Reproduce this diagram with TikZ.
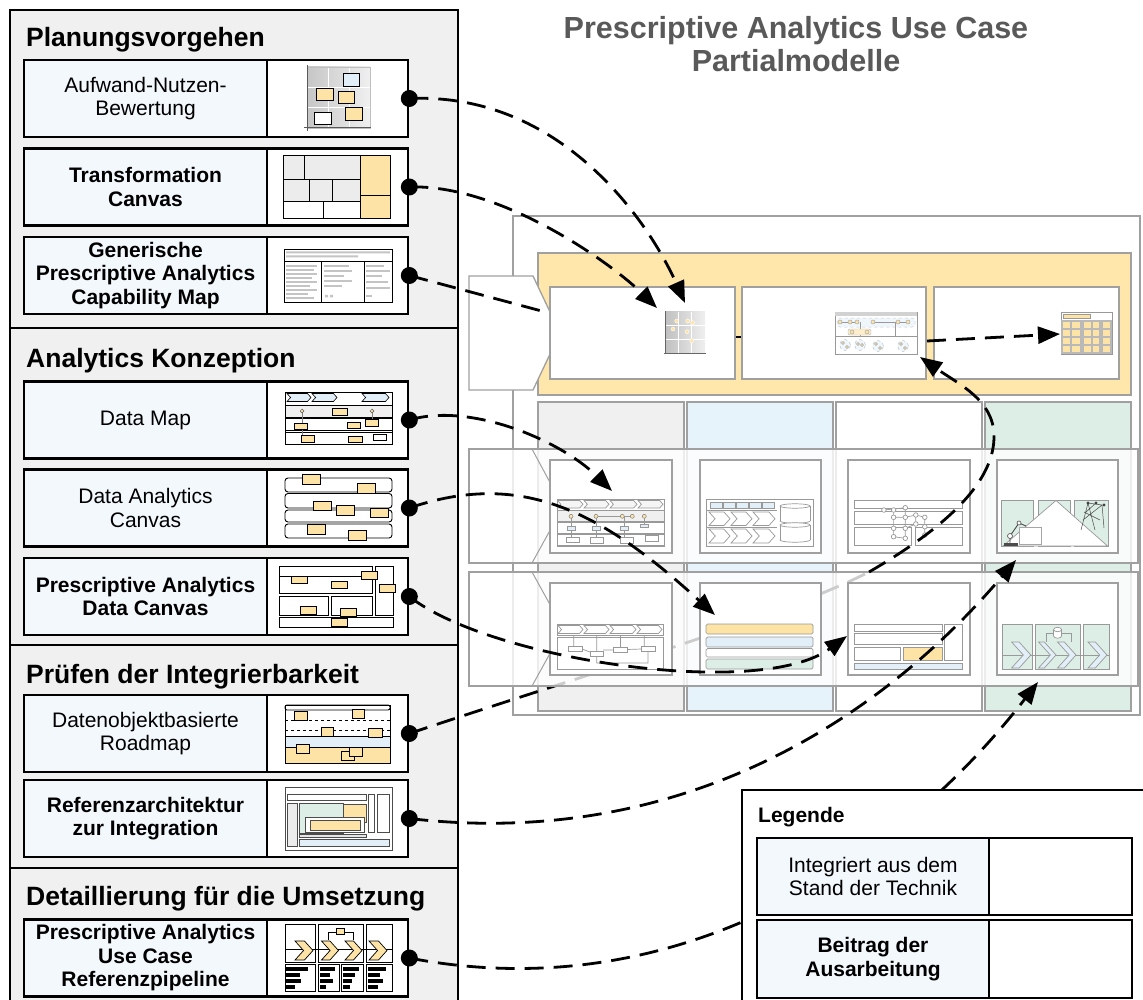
\documentclass[tikz,border=0pt]{standalone}
\usepackage{fontspec}
\setmainfont{Liberation Sans}
\usetikzlibrary{arrows.meta,calc}

\definecolor{panelgray}{HTML}{F0F0F0}
\definecolor{celltint}{HTML}{F3F8FC}
\definecolor{sand}{HTML}{FFE6AB}
\definecolor{notefill}{HTML}{FDE3A6}
\definecolor{framegray}{HTML}{A0A0A0}
\definecolor{colgray}{HTML}{F0F0F0}
\definecolor{colblue}{HTML}{E7F3FA}
\definecolor{colgreen}{HTML}{DDEEE6}
\definecolor{titlegray}{HTML}{595959}
\definecolor{paleblue}{HTML}{E2EFF9}
\definecolor{palegreen}{HTML}{DCEEE5}
\definecolor{bargray}{HTML}{C4C4C4}

% right-pointing chevron: [style]{x1}{x2}{y1}{y2}
\newcommand{\chevpath}[5][]{%
  \draw[#1] (#2,#4) -- ({#3-0.45*(#5-#4)},#4) -- (#3,{0.5*(#4+#5)})
    -- ({#3-0.45*(#5-#4)},#5) -- (#2,#5) -- ({#2+0.45*(#5-#4)},{0.5*(#4+#5)}) -- cycle;}
% small database drum: {cx}{ytop}{ybottom}{rx}
\newcommand{\drumshape}[4]{%
  \draw[icline, fill=white] (#1,#3) ellipse[x radius=#4pt, y radius=2.2pt];
  \fill[white] ({#1-#4},#2) rectangle ({#1+#4},#3);
  \draw[icline] ({#1-#4},#2) -- ({#1-#4},#3) ({#1+#4},#2) -- ({#1+#4},#3);
  \draw[icline, fill=white] (#1,#2) ellipse[x radius=#4pt, y radius=2.2pt];}

\begin{document}
\begin{tikzpicture}[x=1pt,y=-1pt,
  itemtext/.style={font=\fontsize{21}{23.5}\selectfont, align=center},
  itemL/.style={draw, line width=2.6pt, fill=celltint, minimum width=243pt, minimum height=77pt, inner sep=0pt, itemtext},
  itemLb/.style={itemL, font=\fontsize{21}{23.5}\selectfont\bfseries},
  itemR/.style={draw, line width=2.6pt, fill=white, minimum width=141pt, minimum height=77pt, inner sep=0pt},
  sectitle/.style={anchor=base west, font=\fontsize{26.5}{29}\selectfont\bfseries, inner sep=0pt},
  conn/.style={line width=2.8pt, dash pattern=on 19pt off 10pt},
  arrowend/.style={-{Triangle[length=22pt,width=17pt]}},
  gframe/.style={draw=framegray, line width=1.3pt},
  pbox/.style={gframe, fill=white, inner sep=0pt},
  icline/.style={draw=gray!80, line width=0.7pt},
  postit/.style={draw=black, line width=0.7pt, fill=notefill},
  icblack/.style={draw=black, line width=0.9pt},
]
\fill[white] (0,0) rectangle (1143,1000);
\useasboundingbox (0,0) rectangle (1143,1000);

% ---------------- left panel ----------------
\draw[line width=2.4pt, fill=panelgray] (10,10) rectangle (458,1012);
\draw[line width=2.8pt] (10,328) -- (458,328) (10,645) -- (458,645) (10,868) -- (458,868);

\node[sectitle] (sec1) at (26,47) {Planungsvorgehen};
\node[sectitle] (sec2) at (26,367) {Analytics Konzeption};
\node[sectitle] (sec3) at (26,683) {Prüfen der Integrierbarkeit};
\node[sectitle] (sec4) at (26,905) {Detaillierung für die Umsetzung};

\node[itemL]  (aufL)  at (145.5,98.5) {Aufwand-Nutzen-\\Bewertung};
\node[itemR]  (aufR)  at (337.5,98.5) {};
\node[itemLb] (traL)  at (145.5,187) {Transformation\\Canvas};
\node[itemR]  (traR)  at (337.5,187) {};
\node[itemLb] (genL)  at (145.5,275.5) {Generische\\Prescriptive Analytics\\Capability Map};
\node[itemR]  (genR)  at (337.5,275.5) {};
\node[itemL]  (dmapL) at (145.5,420) {Data Map};
\node[itemR]  (dmapR) at (337.5,420) {};
\node[itemL]  (dacL)  at (145.5,508) {Data Analytics\\Canvas};
\node[itemR]  (dacR)  at (337.5,508) {};
\node[itemLb] (pdcL)  at (145.5,596.5) {Prescriptive Analytics\\Data Canvas};
\node[itemR]  (pdcR)  at (337.5,596.5) {};
\node[itemL]  (roadL) at (145.5,733.5) {Datenobjektbasierte\\Roadmap};
\node[itemR]  (roadR) at (337.5,733.5) {};
\node[itemLb] (refL)  at (145.5,818.5) {Referenzarchitektur\\zur Integration};
\node[itemR]  (refR)  at (337.5,818.5) {};
\node[itemLb] (pipeL) at (145.5,958) {Prescriptive Analytics\\Use Case\\Referenzpipeline};
\node[itemR]  (pipeR) at (337.5,958) {};

% effort/benefit matrix thumbnail
\shade[left color=gray!45, right color=gray!12] (307,67) rectangle (370,128);
\draw[white, line width=0.9pt] (328,67) -- (328,128) (349,67) -- (349,128) (307,87) -- (370,87) (307,107) -- (370,107);
\draw[gray!50, line width=0.8pt] (307,67) rectangle (370,128);
\draw[gray!70!black, line width=1pt] (307,65) -- (307,131) (304,128) -- (371,128);
\draw[postit, fill=paleblue] (343,73) rectangle (359,86);
\draw[postit] (316,88) rectangle (333,100);
\draw[postit] (338,91) rectangle (354,103);
\draw[postit] (345,107) rectangle (362,120);
\draw[postit, fill=white] (314,112) rectangle (331,124);

% transformation canvas thumbnail
\begin{scope}[line width=1pt]
\draw[fill=gray!15] (283,156) rectangle (304,180);
\draw[fill=gray!15] (304,156) rectangle (360,180);
\draw[fill=notefill] (360,156) rectangle (390,196);
\draw[fill=notefill] (360,196) rectangle (390,219);
\draw[fill=gray!15] (283,180) rectangle (309,202);
\draw[fill=gray!15] (309,180) rectangle (332,202);
\draw[fill=gray!15] (332,180) rectangle (360,202);
\draw[fill=white] (283,202) rectangle (323,219);
\draw[fill=white] (323,202) rectangle (360,219);
\end{scope}

% capability map thumbnail
\draw[icblack, fill=white] (284,249) rectangle (392,302);
\draw[icblack] (284,261) -- (392,261) (321,261) -- (321,302) (364,261) -- (364,302);
\fill[bargray] (286,251.5) rectangle (390,253.5) (286,255.5) rectangle (358,257.5);
\foreach \yy/\len in {265/31,269/28,273/31,277/26,281/31,285/24,289/31,293/22,297/28}
  {\fill[bargray] (286,\yy) rectangle (286+\len,\yy+2.2);}
\foreach \yy/\len in {265/25,270/28,275/20,280/28,285/18}
  {\fill[bargray] (324,\yy) rectangle (324+\len,\yy+2.2);}
\fill[bargray] (325,295) rectangle (328,297.5) (330,295) rectangle (333,297.5);
\foreach \yy/\len in {265/18,270/24,275/16,281/22,287/24}
  {\fill[bargray] (366,\yy) rectangle (366+\len,\yy+2.2);}
\fill[bargray] (366,295) rectangle (372,297.5);

% data map thumbnail
\draw[icblack, line width=0.8pt, fill=white] (285,392) rectangle (392,444);
\chevpath[draw=black, line width=0.6pt, fill=paleblue]{287}{311}{393.5}{401.5}
\chevpath[draw=black, line width=0.6pt, fill=paleblue]{312}{337}{393.5}{401.5}
\chevpath[draw=black, line width=0.6pt, fill=paleblue]{362}{389}{393.5}{401.5}
\draw[line width=0.6pt, fill=gray!12] (285,405) rectangle (392,417);
\draw[line width=0.6pt] (285,418.5) rectangle (392,430.5) (285,432) rectangle (392,444);
\draw[gray, line width=0.5pt] (302,411) -- (302,437) (372,411) -- (372,421);
\draw[gray!70!black, line width=0.5pt, fill=notefill] (302,411) circle[radius=1.9pt] (372,411) circle[radius=1.9pt];
\draw[postit] (332,408) rectangle (347,415);
\draw[postit] (294,423) rectangle (307,429);
\draw[postit] (347,422) rectangle (360,428);
\draw[postit] (365,419) rectangle (378,426);
\draw[postit] (301,435) rectangle (314,442);
\draw[postit] (348,436) rectangle (362,442);
\draw[postit, fill=white] (373,434) rectangle (386,440);

% data analytics canvas thumbnail
\begin{scope}[line width=0.9pt]
\draw[rounded corners=3pt, fill=white] (285,478) rectangle (392,492);
\draw[rounded corners=3pt, fill=white] (285,493.5) rectangle (392,508);
\draw[rounded corners=3pt, fill=white] (285,510) rectangle (392,522);
\draw[rounded corners=3pt, fill=white] (285,524) rectangle (392,538);
\end{scope}
\draw[postit] (302,474) rectangle (320,484);
\draw[postit] (357,483) rectangle (375,493);
\draw[postit] (313,501) rectangle (331,510);
\draw[postit] (336,505) rectangle (354,515);
\draw[postit] (370,508) rectangle (388,517);
\draw[postit] (307,524) rectangle (325,534);
\draw[postit] (348,530) rectangle (366,540);

% prescriptive analytics data canvas thumbnail
\begin{scope}[line width=0.9pt]
\draw[fill=white] (279,566) rectangle (372,593);
\draw (279,576) -- (372,576);
\draw[fill=white] (375,566) rectangle (393,615);
\draw[fill=white] (279,596) rectangle (328,615);
\draw[fill=white] (331,596) rectangle (372,615);
\draw[fill=white] (279,617) rectangle (393,627);
\end{scope}
\draw[postit] (291,576) rectangle (307,583);
\draw[postit] (331,581) rectangle (347,588);
\draw[postit] (361,571) rectangle (377,579);
\draw[postit] (379,584) rectangle (395,592);
\draw[postit] (300,606) rectangle (316,614);
\draw[postit] (340,608) rectangle (356,616);
\draw[postit] (331,618) rectangle (347,626);

% roadmap thumbnail
\draw[icblack, fill=white] (285,705) rectangle (390,763);
\draw[icblack, rounded corners=2pt] (285,705) rectangle (390,710);
\draw[dashed, line width=0.8pt] (285,720) -- (390,720) (285,730) -- (390,730);
\draw[icblack, fill=paleblue] (285,736) rectangle (390,747);
\draw[icblack, fill=notefill] (285,747) rectangle (390,763);
\draw[postit] (294,711) rectangle (307,720);
\draw[postit] (352,709) rectangle (364,718);
\draw[postit] (321,727) rectangle (333,736);
\draw[postit] (368,728) rectangle (382,737);
\draw[postit] (296,744) rectangle (309,753);
\draw[postit] (341,751) rectangle (354,760);
\draw[postit] (349,747) rectangle (362,756);

% reference architecture thumbnail
\begin{scope}[draw=gray!60!black, line width=0.8pt]
\draw[fill=white] (285,787) rectangle (392,850);
\draw[fill=white] (287,794) rectangle (366,800);
\draw[fill=gray!15] (287,803) rectangle (297,846);
\draw[fill=palegreen] (299,803) rectangle (343,833);
\draw[fill=notefill] (343,804) rectangle (366,822);
\draw[fill=white] (305,817) rectangle (364,832);
\draw[fill=notefill] (310,820) rectangle (360,830);
\draw[fill=gray!20] (299,834) rectangle (366,837);
\draw[fill=white] (368,794) rectangle (374,832);
\draw[fill=white] (377,794) rectangle (389,832);
\draw[fill=paleblue] (299,839) rectangle (389,846);
\end{scope}

% reference pipeline thumbnail
\begin{scope}[draw=black, line width=0.8pt]
\draw[fill=white] (285,924) rectangle (315,962);
\draw[fill=white] (318,924) rectangle (363,962);
\draw[fill=white] (366,924) rectangle (392,962);
\draw (285,949) -- (392,949);
\chevpath[draw=black, line width=0.7pt, fill=notefill]{295}{313}{941}{960}
\chevpath[draw=black, line width=0.7pt, fill=notefill]{321.5}{338.5}{941}{960}
\chevpath[draw=black, line width=0.7pt, fill=notefill]{345}{362}{941}{960}
\chevpath[draw=black, line width=0.7pt, fill=notefill]{369}{387}{941}{960}
\draw (328.3,940) -- (328.3,932.7) -- (353.3,932.7) -- (353.3,940);
\draw[fill=notefill] (336.7,928) rectangle (344,934);
\draw[fill=white] (285,964) rectangle (315,991);
\draw[fill=white] (318,964) rectangle (339,991);
\draw[fill=white] (341.5,964) rectangle (363,991);
\draw[fill=white] (366,964) rectangle (392,991);
\end{scope}
\foreach \xx/\wa/\wb/\wc/\wd in {286/22/14/15/9, 319.5/15/10/13/6, 343/16/12/9/7, 367.5/18/12/15/10} {
  \fill[black] (\xx,966.5) rectangle (\xx+\wa,970.5);
  \fill[black] (\xx,972.5) rectangle (\xx+\wb,976.5);
  \fill[black] (\xx,978.5) rectangle (\xx+\wc,982.5);
  \fill[black] (\xx,984.5) rectangle (\xx+\wd,988.5);
}

% ---------------- title ----------------
\node[font=\fontsize{30.5}{32.5}\selectfont\bfseries, text=titlegray, align=center, inner sep=0pt] (title) at (796,44) {Prescriptive Analytics Use Case\\Partialmodelle};

% ---------------- use case framework ----------------
\draw[gframe, fill=white] (513,216) rectangle (1140,715);
\draw[gframe, fill=sand] (538,253) rectangle (1131,395);
\draw[gframe, fill=white] (469,276) -- (533,276) -- (560,333) -- (533,390) -- (469,390) -- cycle;
\node[pbox, minimum width=185pt, minimum height=92pt] (tb1) at (642.5,333) {};
\node[pbox, minimum width=184pt, minimum height=92pt] (tb2) at (834,333) {};
\node[pbox, minimum width=185pt, minimum height=92pt] (tb3) at (1026.5,333) {};
\draw[line width=2.8pt] ($(tb1.east)+(0,4)$) -- ($(tb2.west)+(0,4)$);

% matrix icon
\shade[left color=gray!50, right color=gray!12] (665,312) rectangle (705,353);
\draw[white, line width=0.6pt] (678,312) -- (678,353) (691,312) -- (691,353) (665,325.5) -- (705,325.5) (665,339) -- (705,339);
\draw[gray!80!black, line width=0.8pt] (665,311) -- (665,354) (664,353) -- (706,353);
\foreach \p in {(676.7,321),(687.7,321),(692.7,322.7),(673,329),(687,331.7),(691.7,340.7)}
  {\fill[notefill, draw=white, line width=0.4pt] \p circle[radius=2pt];}

% model icon
\draw[icline, fill=white] (835,312) rectangle (917,354);
\fill[gray!35] (835,312) rectangle (917,316);
\draw[icline] (835,336) -- (917,336);
\draw[paleblue!70!gray, dashed, line width=0.5pt, fill=paleblue!50, rounded corners=3pt] (837,318) rectangle (915,327);
\draw[icline] (840,322) -- (857,322) (873,322) -- (908,322) (860,322) -- (860,336) (895,322) -- (895,336);
\draw[gray!60, fill=notefill!60, rounded corners=2pt] (848,329) rectangle (871,335);
\foreach \p in {(840,322),(850,322),(857,322),(873,322),(898,322),(908,322),(852,332),(867,332)}
  {\draw[gray!70, line width=0.5pt, fill=notefill] \p circle[radius=2pt];}
\foreach \p in {(845,345),(860,345),(878,346),(903,346)}
  {\draw[paleblue!60!gray, dashed, line width=0.5pt, fill=paleblue!50] \p circle[radius=5.5pt];}
\foreach \p in {(843,343),(847,347),(858,344),(862,345),(876,344),(880,348),(901,344),(905,348)}
  {\draw[gray!70, line width=0.4pt, fill=notefill] \p circle[radius=1.5pt];}

% table icon
\draw[icline, fill=white] (1061,312) rectangle (1112,354);
\draw[icline, fill=notefill] (1063,314.5) rectangle (1090,318);
\fill[gray!55] (1061,320) rectangle (1112,354);
\foreach \cx/\cw in {1063/7,1072/8,1084/7,1093/6,1103/7}
  {\foreach \ry in {322,330,338,346}
    {\fill[notefill] (\cx,\ry) rectangle (\cx+\cw,\ry+6);}}

% columns
\draw[gframe, fill=colgray] (538,402) rectangle (684,711);
\draw[gframe, fill=colblue] (687,402) rectangle (833,711);
\draw[gframe, fill=white] (836,402) rectangle (982,711);
\draw[gframe, fill=colgreen] (985,402) rectangle (1131,711);

% roadmap connector, first leg runs beneath the lower band
\coordinate (viaG) at (869,572);
\draw[conn] (roadR.east) .. controls (600,670) and (780,617) .. (viaG);

% translucent bands
\draw[gframe, fill=white, fill opacity=0.8] (469,449) rectangle (1138,563);
\draw[framegray, line width=1pt] (532,449) -- (553,488) (553,525) -- (532,563);
\draw[gframe, fill=white, fill opacity=0.8] (469,572) rectangle (1138,686);
\draw[framegray, line width=1pt] (532,572) -- (553,610) (553,648) -- (532,686);

\node[pbox, minimum width=122pt, minimum height=93pt] (r2a) at (611,506.5) {};
\node[pbox, minimum width=121pt, minimum height=93pt] (r2b) at (760.5,506.5) {};
\node[pbox, minimum width=122pt, minimum height=93pt] (r2c) at (909,506.5) {};
\node[pbox, minimum width=121pt, minimum height=93pt] (r2d) at (1057.5,506.5) {};
\node[pbox, minimum width=122pt, minimum height=92pt] (r3a) at (611,629) {};
\node[pbox, minimum width=121pt, minimum height=92pt] (r3b) at (760.5,629) {};
\node[pbox, minimum width=122pt, minimum height=92pt] (r3c) at (909,629) {};
\node[pbox, minimum width=121pt, minimum height=92pt] (r3d) at (1057.5,629) {};

% data map icon
\draw[icline, fill=white] (557,499) rectangle (664,546);
\foreach \a/\b in {557.5/583,584/609,610/637,638/663}
  {\chevpath[icline, fill=gray!8]{\a}{\b}{500.5}{508}}
\draw[icline, fill=gray!12] (557,510.5) rectangle (664,521.5);
\draw[icline] (557,522.5) rectangle (664,533.5) (557,534.5) rectangle (664,545.5);
\draw[icline] (596,516.3) -- (632,516.3);
\draw[icline] (571,516) -- (571,537) (596,516) -- (596,537) (624,516) -- (624,537) (644,516) -- (644,524);
\foreach \x in {571,596,622.3,632.3,644.3}
  {\draw[gray, line width=0.5pt, fill=notefill] (\x,516.3) circle[radius=2pt];}
\foreach \x/\y in {567/526.5,592/526.5,620/526.5,640/524}
  {\draw[icline, fill=paleblue] (\x,\y) rectangle (\x+8,\y+3.5);}
\foreach \x/\y in {566/537,590/537.5,620/537.5,645/535.7}
  {\draw[icline, fill=white] (\x,\y) rectangle (\x+13,\y+5.5);}

% process/data icon
\draw[icline, fill=white] (706,499) rectangle (813,546);
\foreach \x in {710,723,736,749,762}
  {\draw[icline, fill=paleblue] (\x,502) rectangle (\x+12,508);}
\draw[icline] (706,510) -- (777,510) (706,527) -- (777,527);
\foreach \a/\b in {709/730,731/752,753/775}
  {\chevpath[icline, fill=white]{\a}{\b}{512}{525.5}}
\foreach \a/\b in {709/730,731/752,753/775}
  {\chevpath[icline, fill=white]{\a}{\b}{529}{543}}
\drumshape{795}{506}{521}{15}
\drumshape{795}{525}{540}{15}

% graph icon
\draw[icline, fill=white] (854,500) rectangle (962,508);
\draw[icline, fill=white] (854,511) rectangle (962,524);
\draw[icline, fill=white] (854,527) rectangle (911,545);
\draw[icline, fill=white] (915,527) rectangle (962,545);
\draw[icline] (883.9,510) -- (905.3,507.7) (893.6,510) -- (893.6,536.7) (905.3,507.7) -- (905.3,538.3)
  (893.6,517.3) -- (905.3,517.3) (905.3,517.3) -- (915.8,515) -- (924.8,517.3) -- (924.8,535)
  (915.8,515) -- (915.8,524) -- (905.3,528.3) (893.6,536.7) -- (905.3,538.3);
\foreach \p in {(883.9,510),(893.6,510),(905.3,507.7),(893.6,517.3),(905.3,517.3),(915.8,515),(924.8,517.3),(915.8,524),(924.8,526.7),(893.6,528.3),(905.3,528.3),(893.6,536.7),(905.3,538.3),(924.8,535)}
  {\draw[icline, fill=white] \p circle[radius=2.3pt];}

% plant icon
\draw[icline, fill=palegreen] (1001.5,500) rectangle (1033.5,546);
\draw[icline, fill=palegreen] (1038.5,500) rectangle (1070.5,546);
\draw[icline, fill=palegreen] (1074.5,500) rectangle (1108.5,546);
\draw[icline, fill=white] (1003,546) -- (1056,500.5) -- (1107.5,546) -- cycle;
\draw[gray!60!black, line width=0.9pt] (1010,544) -- (1010,536) -- (1019,523) -- (1026,526);
\draw[gray!60!black, line width=0.6pt, fill=white] (1010,536) circle[radius=2.5pt] (1019,523) circle[radius=2pt];
\draw[gray!70, line width=0.8pt, fill=white] (1019,527) rectangle (1041.7,544);
\fill[gray!60!black] (1004,543) rectangle (1018,546);
\draw[gray!60!black, line width=0.5pt] (1081,530) -- (1088,503) -- (1095,530) (1083,520) -- (1102,505) -- (1104,528)
  (1084,512) -- (1100,520) (1088,503) -- (1102,505) (1086,512) -- (1096,503);
\foreach \p in {(1088,503),(1096,503),(1104,505)}
  {\fill[gray!50!black] \p circle[radius=1.6pt];}

% process map icon
\draw[icline, fill=white] (557,624) rectangle (663,635);
\foreach \a/\b in {558/583,584/609,610/636,637/662}
  {\chevpath[icline, fill=white]{\a}{\b}{625.5}{633.5}}
\draw[icline, fill=white] (557,637) rectangle (663,669);
\draw[icline] (573.7,635) -- (573.7,647) (596.7,635) -- (596.7,652) (620.5,635) -- (620.5,647.5) (644.3,635) -- (644.3,646.5)
  (582,649) -- (590,652) (603,650) -- (613.6,650) (627.4,649.5) -- (641.6,649)
  (596.7,656.7) -- (596.7,663) -- (648,663) -- (648,651.3);
\draw[icline, fill=white] (568.8,646.7) rectangle (582,651.7);
\draw[icline, fill=white] (590,651.7) rectangle (603,656.7);
\draw[icline, fill=white] (613.6,647.3) rectangle (627.4,652.3);
\draw[icline, fill=white] (641.6,646.3) rectangle (655,651.3);

% layer icon
\draw[icline, fill=notefill, rounded corners=1.5pt] (706,624) rectangle (813,634);
\draw[icline, fill=paleblue, rounded corners=1.5pt] (706,637) rectangle (813,647);
\draw[icline, fill=white, rounded corners=1.5pt] (706,648.5) rectangle (813,657);
\draw[icline, fill=palegreen, rounded corners=1.5pt] (706,659) rectangle (813,669);

% dashboard icon
\draw[icline, fill=white] (854,624) rectangle (942,631);
\draw[icline, fill=white] (854,633.5) rectangle (942,644);
\draw[icline, fill=white] (854,647.5) rectangle (900.5,660);
\draw[icline, fill=notefill] (903,647.5) rectangle (942,660);
\draw[icline, fill=white] (944,624) rectangle (962,660);
\draw[icline, fill=paleblue] (854,663) rectangle (962,669);

% pipeline icon
\draw[icline, fill=palegreen] (1002,624.3) rectangle (1032,669.3);
\draw[icline, fill=palegreen] (1035.4,624.3) rectangle (1080.6,669.3);
\draw[icline, fill=palegreen] (1083.7,624.3) rectangle (1109.4,669.3);
\draw[icline] (1002,655) -- (1109.4,655);
\chevpath[icline, fill=paleblue]{1011.6}{1030.8}{642}{668}
\chevpath[icline, fill=paleblue]{1038.6}{1056}{642}{668}
\chevpath[icline, fill=paleblue]{1057.5}{1076}{642}{668}
\chevpath[icline, fill=paleblue]{1088}{1107}{642}{668}
\draw[icline] (1046,641.7) -- (1046,633.3) -- (1071,633.3) -- (1071,641.7);
\drumshape{1057.6}{629.5}{636}{4}

% ---------------- connectors ----------------
\coordinate (tipA) at (685,303);
\coordinate (tipB) at (657,308);
\coordinate (endC) at (549,313);
\coordinate (tipD) at (612,491);
\coordinate (tipE) at (715,615);
\coordinate (tipF) at (847,636);
\coordinate (tipG) at (920,357);
\coordinate (tipH) at (1016,560);
\coordinate (tipI) at (1038,682);
\coordinate (tb2out) at (927,341);
\coordinate (tb3in) at (1060,334);

\draw[conn, arrowend] (aufR.east) .. controls (560,92) and (648,220) .. (tipA);
\draw[conn, arrowend] (traR.east) .. controls (500,184) and (610,262) .. (tipB);
\draw[conn] (genR.east) -- (endC);
\draw[conn, arrowend] (tb2out) -- (tb3in);
\draw[conn, arrowend] (dmapR.east) .. controls (470,402) and (560,440) .. (tipD);
\draw[conn, arrowend] (dacR.east) .. controls (520,470) and (600,510) .. (tipE);
\draw[conn, arrowend] (pdcR.east) .. controls (490,660) and (760,700) .. (tipF);
\draw[conn, arrowend] (viaG) .. controls (950,525) and (995,480) .. (994,435) .. controls (993,400) and (960,385) .. (tipG);
\draw[conn, arrowend] (refR.east) .. controls (680,850) and (880,720) .. (tipH);
\draw[conn, arrowend] (pipeR.east) .. controls (680,1010) and (900,860) .. (tipI);

% ---------------- legend ----------------
\node[draw, line width=2.4pt, fill=white, anchor=north west, minimum width=420pt, minimum height=230pt, inner sep=0pt] (legend) at (741,789) {};
\node[anchor=base west, font=\fontsize{21}{24}\selectfont\bfseries, inner sep=0pt] (legtitle) at (758,822) {Legende};
\node[itemL, minimum width=232pt] (leg1L) at (873,876.5) {Integriert aus dem\\Stand der Technik};
\node[itemR, minimum width=143pt] (leg1R) at (1060.5,876.5) {};
\node[itemLb, minimum width=232pt, minimum height=78pt] (leg2L) at (873,959) {Beitrag der\\Ausarbeitung};
\node[itemR, minimum width=143pt, minimum height=78pt] (leg2R) at (1060.5,959) {};

% connector origins
\foreach \n in {aufR,traR,genR,dmapR,dacR,pdcR,roadR,refR,pipeR}
  {\fill (\n.east) circle[radius=8.5pt];}
\end{tikzpicture}
\end{document}
